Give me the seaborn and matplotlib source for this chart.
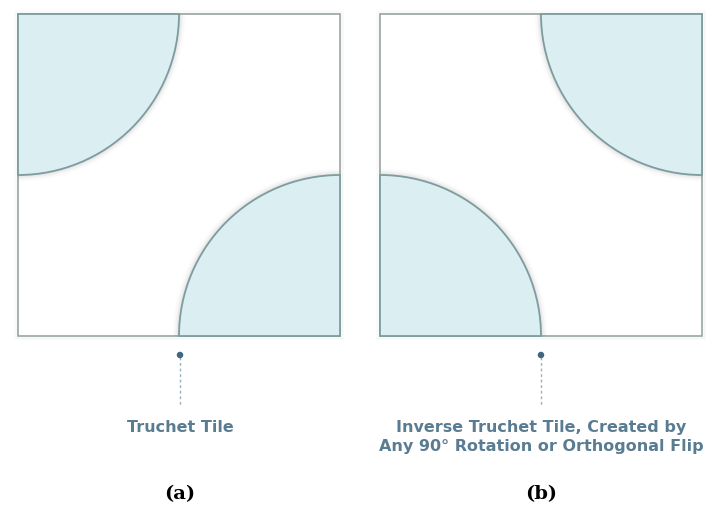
import matplotlib
matplotlib.use("Agg")
import matplotlib.pyplot as plt
import seaborn as sns
from matplotlib.patches import Rectangle, Wedge

# tile geometry (pixel space of the reference)
tile_left = [18, 380]
tile_top = 14
tile_size = 322
# quarter circles per tile: (corner, start angle, end angle)
tile_arcs = [
    [("tl", 0, 90), ("br", 180, 270)],
    [("tr", 90, 180), ("bl", 270, 360)],
]
captions = ["Truchet Tile",
            "Inverse Truchet Tile, Created by\nAny 90\u00b0 Rotation or Orthogonal Flip"]
sublabels = ["(a)", "(b)"]
pointer_x = [180, 541]

sns.set_theme(style="white")
fig = plt.figure(figsize=(7.14, 5.08), dpi=100)
ax = fig.add_axes([0, 0, 1, 1])
ax.set_xlim(0, 714)
ax.set_ylim(508, 0)
ax.axis("off")

fill = "#dbeff2"
edge = "#7e9c9f"
txt = "#5a7c92"
r = tile_size / 2

for i, x0 in enumerate(tile_left):
    corners = {"tl": (x0, tile_top), "tr": (x0 + tile_size, tile_top),
               "bl": (x0, tile_top + tile_size), "br": (x0 + tile_size, tile_top + tile_size)}
    # faint shadow around the tile
    for k, al in [(3, 0.03), (1.5, 0.05)]:
        ax.add_patch(Rectangle((x0 - k, tile_top - k), tile_size + 2 * k, tile_size + 2 * k,
                               fill=False, ec="#999999", lw=1.5, alpha=al, zorder=0))
    ax.add_patch(Rectangle((x0, tile_top), tile_size, tile_size, fill=False,
                           ec="#9aa3a3", lw=1.2, zorder=1))
    for c, a1, a2 in tile_arcs[i]:
        cx, cy = corners[c]
        # soft shadow
        for k, al in [(6, 0.04), (4, 0.06), (2.5, 0.08), (1.2, 0.1)]:
            ax.add_patch(Wedge((cx, cy), r + k, a1, a2, fc="#8a8a8a", ec="none",
                               alpha=al, zorder=2))
        ax.add_patch(Wedge((cx, cy), r, a1, a2, fc=fill, ec=edge, lw=1.3, zorder=3))

    px = pointer_x[i]
    ax.plot([px, px], [357, 405], ls=(0, (2, 2)), color="#9ab0bd", lw=1, zorder=2)
    sns.scatterplot(x=[px], y=[355], s=22, color="#3f6880", edgecolor="none", ax=ax,
                    zorder=4, legend=False)
    ax.text(px, 420, captions[i], ha="center", va="top", fontsize=11.5,
            fontweight="bold", color=txt, family="DejaVu Sans", linespacing=1.35)
    ax.text(px, 494, sublabels[i], ha="center", va="center", fontsize=14,
            fontweight="bold", color="black", family="DejaVu Serif")

ax.set_xlim(0, 714)
ax.set_ylim(508, 0)
fig.savefig("out.png", dpi=100)
